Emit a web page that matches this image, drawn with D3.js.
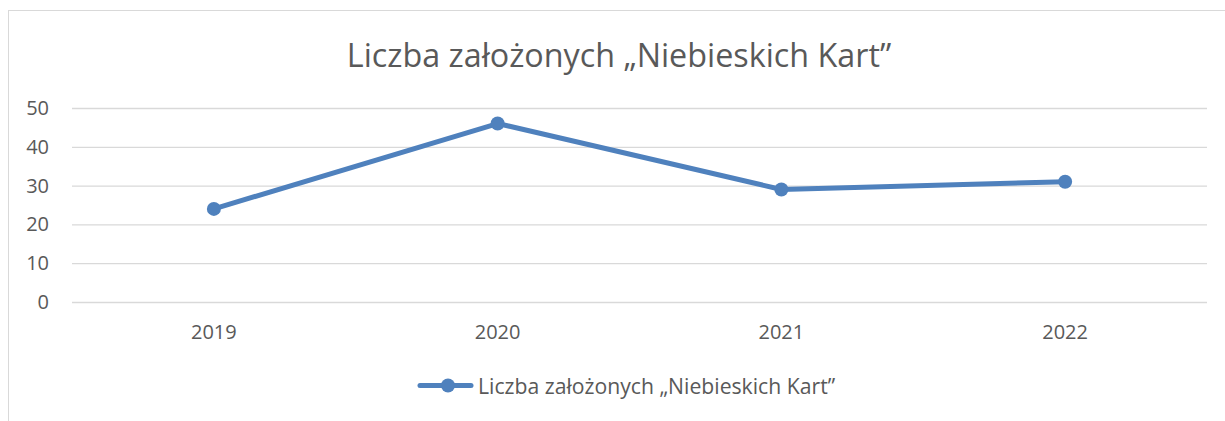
<!DOCTYPE html>
<html><head><meta charset="utf-8">
<script src="https://cdn.jsdelivr.net/npm/d3@7"></script>
<style>body{margin:0;background:#fff}svg{display:block}</style>
</head><body>
<svg id="c" width="1225" height="421"></svg>
<script>
const categories = ["2019", "2020", "2021", "2022"];
const values = [24, 46, 29, 31];
const yTicks = [0, 10, 20, 30, 40, 50];
const seriesName = "Liczba założonych „Niebieskich Kart”";
const titleText = "Liczba założonych „Niebieskich Kart”";

(function () {
const svg = d3.select("#c");
const font = "'Open Sans', sans-serif";
const color = "#4F81BD";
const textColor = "#595959";

svg.append("rect").attr("x", 8.5).attr("y", 10.5).attr("width", 1240).attr("height", 430)
  .attr("fill", "#fff").attr("stroke", "#d9d9d9").attr("stroke-width", 1);

const pLeft = 72, pRight = 1207, pTop = 108, pBottom = 302;
const x = d3.scaleBand().domain(categories).range([pLeft, pRight]);
const y = d3.scaleLinear().domain([0, 50]).range([pBottom, pTop]);

svg.append("text").attr("x", 619).attr("y", 67).attr("text-anchor", "middle")
  .attr("font-family", font).attr("font-size", 32.3).attr("fill", textColor).text(titleText);

const yAxis = svg.append("g").attr("transform", `translate(${pLeft},0)`)
  .call(d3.axisLeft(y).tickValues(yTicks).tickSize(-(pRight - pLeft)).tickPadding(23));
yAxis.select(".domain").remove();
yAxis.selectAll(".tick line").attr("stroke", "#d9d9d9").attr("stroke-width", 1.3);
yAxis.selectAll(".tick text").attr("font-family", font).attr("font-size", 20).attr("fill", textColor);

const xAxis = svg.append("g").attr("transform", `translate(0,${pBottom})`)
  .call(d3.axisBottom(x).tickSize(0).tickPadding(23));
xAxis.select(".domain").remove();
xAxis.selectAll(".tick text").attr("font-family", font).attr("font-size", 20).attr("fill", textColor);

const cx = d => x(d) + x.bandwidth() / 2;
const line = d3.line().x((d, i) => cx(categories[i])).y(d => y(d));
svg.append("path").datum(values).attr("d", line).attr("fill", "none")
  .attr("stroke", color).attr("stroke-width", 5).attr("stroke-linejoin", "round");
svg.selectAll("circle.pt").data(values).join("circle").attr("class", "pt")
  .attr("cx", (d, i) => cx(categories[i])).attr("cy", d => y(d)).attr("r", 7).attr("fill", color);

const lg = svg.append("g");
lg.append("line").attr("x1", 420).attr("x2", 471).attr("y1", 385.5).attr("y2", 385.5)
  .attr("stroke", color).attr("stroke-width", 5).attr("stroke-linecap", "round");
lg.append("circle").attr("cx", 448).attr("cy", 385.5).attr("r", 7).attr("fill", color);
lg.append("text").attr("x", 478).attr("y", 393.5).attr("font-family", font).attr("font-size", 21.2)
  .attr("fill", textColor).text(seriesName);
})();
</script>
</body></html>
